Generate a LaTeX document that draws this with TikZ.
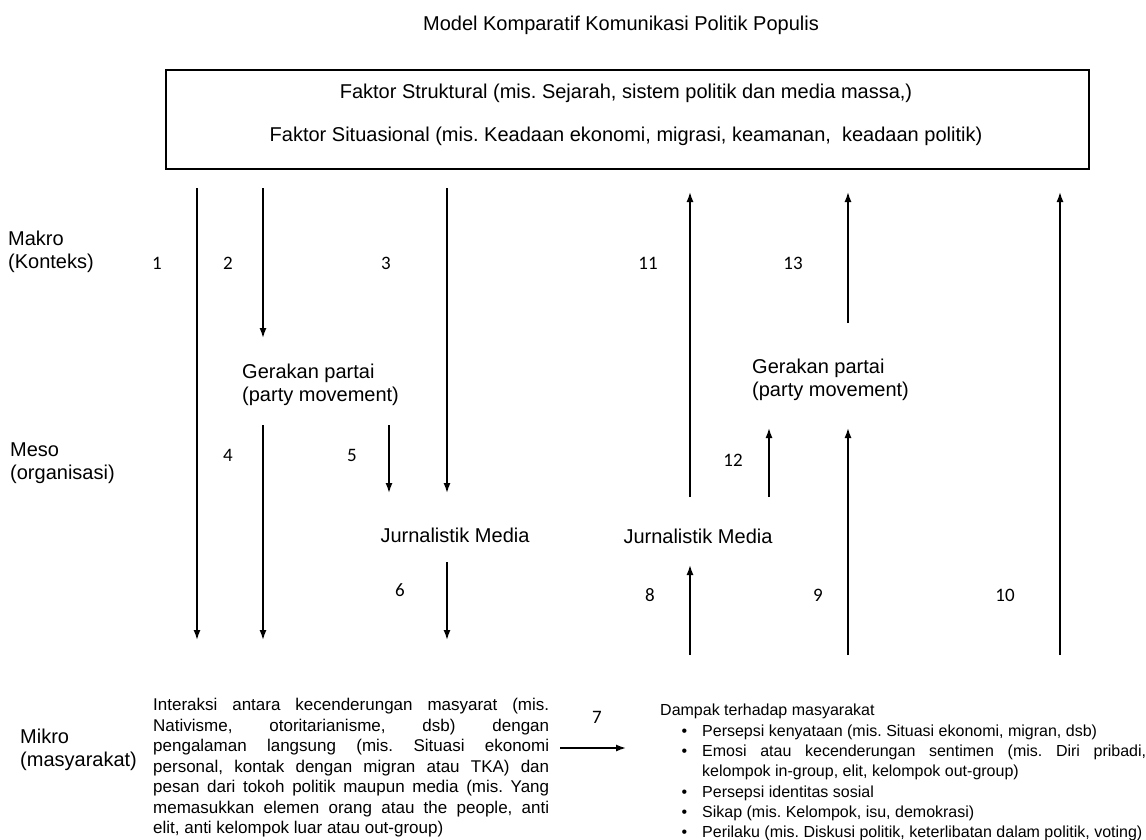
\documentclass[tikz,border=0pt]{standalone}
\usepackage{fontspec}
\setmainfont{Liberation Sans}
\newfontfamily\numfont{Carlito}
\usepackage{enumitem}
\usetikzlibrary{arrows.meta}
\tolerance=10000
\hyphenpenalty=10000
\exhyphenpenalty=10000
\frenchspacing

\begin{document}
\begin{tikzpicture}[x=1pt, y=-1pt,
    flow/.style={line width=1.5pt, -{Latex[length=10pt,width=7pt]}},
    lbl/.style={font=\fontsize{20}{23}\selectfont, align=left, inner sep=0pt},
    num/.style={font=\numfont\fontsize{19}{22}\selectfont, inner sep=0pt},
    body/.style={font=\fontsize{16}{20.3}\selectfont, align=justify, inner sep=0pt, anchor=north west}]
  \useasboundingbox (0,0) rectangle (1146,839);
  % title and context box
  \node[lbl] (title) at (621,25) {Model Komparatif Komunikasi Politik Populis};
  \node[draw, line width=1.3pt, minimum width=923pt, minimum height=99pt] (faktor) at (627.5,119.5) {};
  \node[lbl] (struktural) at (626,93) {Faktor Struktural (mis. Sejarah, sistem politik dan media massa,)};
  \node[lbl] (situasional) at (626,136) {Faktor Situasional (mis. Keadaan ekonomi, migrasi, keamanan,~ keadaan politik)};
  % levels
  \node[lbl, anchor=west] (makro) at (8,252) {Makro\\(Konteks)};
  \node[lbl, anchor=west] (meso) at (10,463) {Meso\\(organisasi)};
  \node[lbl, anchor=west] (mikro) at (20,750) {Mikro\\(masyarakat)};
  % actors
  \node[lbl, anchor=west] (partaiL) at (242,385) {Gerakan partai\\(party movement)};
  \node[lbl, anchor=west] (partaiR) at (752,380) {Gerakan partai\\(party movement)};
  \node[lbl] (mediaL) at (455,535) {Jurnalistik Media};
  \node[lbl] (mediaR) at (698,536) {Jurnalistik Media};
  % paths
  \foreach \n/\x/\ya/\yb in {1/197/188/640, 2/263/188/338, 3/447/188/493,
      4/263/425/640, 5/389/425/493, 6/447/562/640, 8/690/655/565,
      9/848/655/428, 10/1060/655/192, 11/690/497/192, 12/769/497/428,
      13/848/323/192} {
    \coordinate (s\n) at (\x,\ya);
    \coordinate (e\n) at (\x,\yb);
    \draw[flow] (s\n) -- (e\n);
  }
  \coordinate (s7) at (560,748);
  \coordinate (e7) at (626,748);
  \draw[flow] (s7) -- (e7);
  % path numbers
  \foreach \n/\x/\y in {1/157/263, 2/228/263, 3/386/263, 11/648/263,
      13/793/263, 4/228/455, 5/352/455, 12/733/460, 6/400/590,
      8/650/595, 9/818/595, 10/1005/595, 7/597/717} {
    \node[num] (n\n) at (\x,\y) {\n};
  }
  % micro level texts
  \node[body, font=\fontsize{17}{20.5}\selectfont, text width=396pt] (interaksi) at (153,698) {Interaksi antara kecenderungan masyarat (mis.\linebreak
    Nativisme, otoritarianisme, dsb) dengan\linebreak
    pengalaman langsung (mis. Situasi ekonomi\linebreak
    personal, kontak dengan migran atau TKA) dan\linebreak
    pesan dari tokoh politik maupun media (mis. Yang\linebreak
    memasukkan elemen orang atau the people, anti\linebreak
    elit, anti kelompok luar atau out-group)};
  \node[body, text width=486pt] (dampak) at (660,704) {Dampak terhadap masyarakat
    \begin{itemize}[label=\textbullet, leftmargin=42pt, labelsep=15pt, itemsep=0pt, topsep=0pt, parsep=0pt, partopsep=0pt]
      \item Persepsi kenyataan (mis. Situasi ekonomi, migran, dsb)
      \item Emosi atau kecenderungan sentimen (mis. Diri pribadi, kelompok in-group, elit, kelompok out-group)
      \item Persepsi identitas sosial
      \item Sikap (mis. Kelompok, isu, demokrasi)
      \item Perilaku (mis. Diskusi politik, keterlibatan dalam politik, voting)
    \end{itemize}};
\end{tikzpicture}
\end{document}
